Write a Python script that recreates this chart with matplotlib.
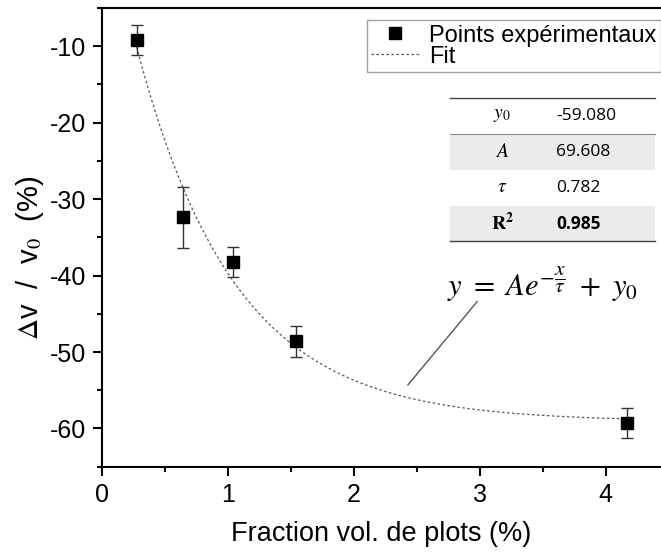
import numpy as np
import matplotlib
matplotlib.use("Agg")
import matplotlib.pyplot as plt
from matplotlib.patches import Rectangle
from matplotlib.lines import Line2D

plt.rcParams['font.family'] = ['Liberation Sans', 'DejaVu Sans']
plt.rcParams['mathtext.fontset'] = 'stix'
plt.rcParams['axes.unicode_minus'] = False

# Data
frac = [0.275, 0.645, 1.04, 1.54, 4.17]
dv = [-9.2, -32.4, -38.2, -48.6, -59.3]
err = [2.0, 4.0, 2.0, 2.0, 2.0]

y0 = -59.080
A = 69.608
tau = 0.782
r2 = 0.985

param_names = [r'$y_0$', r'$A$', r'$\tau$', r'$\mathbf{R}^{\mathbf{2}}$']
param_values = ['-59.080', '69.608', '0.782', '0.985']

W, H = 661, 552
fig = plt.figure(figsize=(W / 100, H / 100), dpi=100)
ax = fig.add_axes([102 / W, 1 - 466.7 / H, 1 - 102 / W, (466.7 - 8) / H])

xf = np.linspace(frac[0], frac[-1], 300)
yf = y0 + A * np.exp(-xf / tau)
ax.plot(xf, yf, linestyle=(0, (2, 2)), color='#555555', lw=0.9, label='Fit', zorder=2)
ax.errorbar(frac, dv, yerr=err, fmt='none', ecolor='#333333', elinewidth=1.0,
            capsize=4, capthick=1.0, zorder=3)
ax.plot(frac, dv, 's', color='black', markersize=9, linestyle='none',
        label='Points expérimentaux', zorder=4)

ax.set_xlim(0, 4.44)
ax.set_ylim(-65, -5)
ax.set_xticks([0, 1, 2, 3, 4])
ax.set_xticks([0.5, 1.5, 2.5, 3.5], minor=True)
ax.set_yticks([-60, -50, -40, -30, -20, -10])
ax.set_yticks([-65, -55, -45, -35, -25, -15, -5], minor=True)
ax.tick_params(axis='both', which='major', direction='out', length=6.5, width=1.5,
               labelsize=18, pad=5)
ax.tick_params(axis='both', which='minor', direction='out', length=3.5, width=1.5)
for s in ['left', 'bottom', 'top']:
    ax.spines[s].set_linewidth(1.5)
ax.spines['right'].set_visible(False)

ax.set_xlabel('Fraction vol. de plots (%)', fontsize=19.5, labelpad=10)
ax.set_ylabel(r'$\Delta$v  /  v$_0$  (%)', fontsize=21)
ax.yaxis.set_label_coords(-0.10, 0.455)

h, l = ax.get_legend_handles_labels()
leg = ax.legend([h[1], h[0]], [l[1], l[0]], loc='upper left',
                bbox_to_anchor=(366.7 / W, 1 - 20 / H), bbox_transform=fig.transFigure,
                borderaxespad=0, fontsize=17, frameon=True, fancybox=False,
                labelspacing=-0.05, handlelength=2.0, handletextpad=0.45, borderpad=0.2)
leg.get_frame().set_edgecolor('#888888')
leg.get_frame().set_linewidth(1.0)

# Parameter table (figure pixel coordinates from the top)
tx0, tx1 = 450, 655
row_tops = [98, 134, 170, 206, 241]
for i in range(4):
    if i in (1, 3):
        fig.patches.append(Rectangle((tx0 / W, 1 - row_tops[i + 1] / H),
                                     (tx1 - tx0) / W, (row_tops[i + 1] - row_tops[i]) / H,
                                     transform=fig.transFigure, facecolor='#ebebeb',
                                     edgecolor='none', zorder=1))
for yy, c, lw in [(98, '#444444', 1.0), (134, '#888888', 0.8), (241, '#444444', 1.0)]:
    fig.lines.append(Line2D([tx0 / W, tx1 / W], [1 - yy / H, 1 - yy / H],
                            transform=fig.transFigure, color=c, lw=lw))
for i in range(4):
    yc = 1 - (row_tops[i] + row_tops[i + 1]) / 2 / H
    fig.text(502 / W, yc, param_names[i], ha='center', va='center', fontsize=14)
    fig.text(556 / W, yc, param_values[i], ha='left', va='center', fontsize=12.5,
             family=['Open Sans', 'DejaVu Sans'],
             fontweight='bold' if i == 3 else 'normal')

# Equation with pointer line
fig.text(447 / W, 1 - 284 / H, r'$y\ =\ Ae^{-\dfrac{x}{\tau}}\ +\ y_0$', ha='left',
         va='center', fontsize=22)
x_a0, y_a0 = 2.43, -54.3
x_a1, y_a1 = 2.98, -43.4
ax.plot([x_a0, x_a1], [y_a0, y_a1], color='#555555', lw=1.0, zorder=2)

fig.savefig('out.png', dpi=100)
